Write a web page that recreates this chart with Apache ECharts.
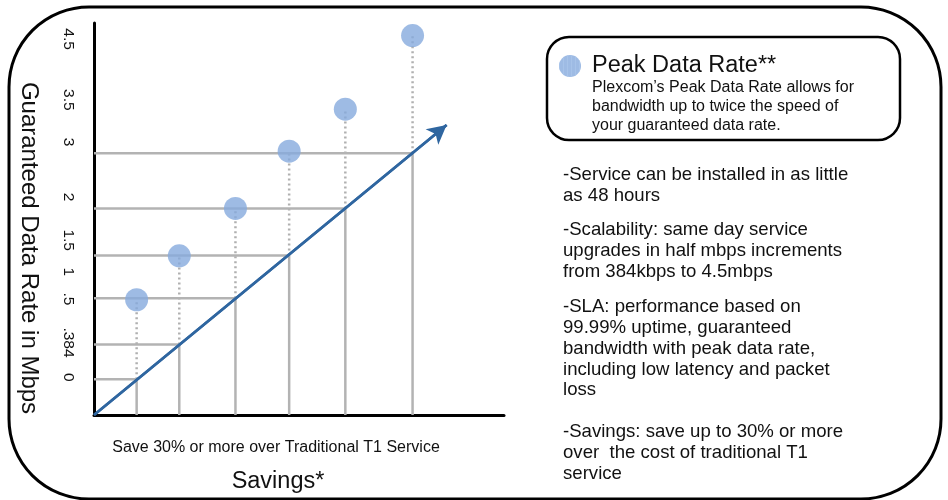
<!DOCTYPE html>
<html lang="en">
<head>
    <meta charset="UTF-8">
    <title>Guaranteed Data Rate</title>
    <script src="https://cdn.jsdelivr.net/npm/echarts@6/dist/echarts.min.js"></script>
</head>
<style>
    html, body { margin: 0; padding: 0; background: #fff; }
    #main { width: 948px; height: 500px; }
</style>
<body>
    <div id="main"></div>
    <script>
        // positions along the savings axis (0-100) and data rate axis (0-100)
        var savingsSteps = [10.4, 20.8, 34.5, 47.6, 61.3, 77.7];
        var guaranteedRate = [9.1, 18.0, 29.8, 40.7, 52.7, 66.8];
        var peakRate = [29.4, 40.6, 52.7, 67.3, 78.0, 96.8];
        var trendLine = [[0, 0], [86.0, 74.0]];
        var tickLabels = ['0', '.384', '.5', '1', '1.5', '2', '3', '3.5', '4.5'];
        var tickValues = [9.6, 18.5, 29.6, 36.5, 44.6, 55.6, 69.6, 80.4, 95.9];

        var bullets = [
            ['-Service can be installed in as little', 'as 48 hours'],
            ['-Scalability: same day service', 'upgrades in half mbps increments', 'from 384kbps to 4.5mbps'],
            ['-SLA: performance based on', '99.99% uptime, guaranteed', 'bandwidth with peak data rate,', 'including low latency and packet', 'loss'],
            ['-Savings: save up to 30% or more', 'over  the cost of traditional T1', 'service']
        ];
        var bulletTops = [175, 230, 307, 432];

        var font = 'Liberation Sans, Arial, sans-serif';
        var dotStyle = {
            color: '#86aadd',
            decal: {
                symbol: 'rect',
                symbolSize: 1,
                color: '#aac6ec',
                dashArrayX: [[1, 3]],
                dashArrayY: [4, 0]
            }
        };

        var stepData = savingsSteps.map(function (x, i) {
            return [x, guaranteedRate[i], peakRate[i]];
        });
        var peakData = savingsSteps.map(function (x, i) {
            return [x, peakRate[i]];
        });

        var texts = [];
        bullets.forEach(function (group, g) {
            group.forEach(function (line, i) {
                texts.push({
                    type: 'text', x: 563, y: bulletTops[g] + i * 20.8,
                    style: { text: line, font: '18.6px ' + font, fill: '#111', verticalAlign: 'middle' }
                });
            });
        });

        var chart = echarts.init(document.getElementById('main'));
        var option = {
            animation: false,
            textStyle: { fontFamily: font },
            grid: { left: 94, top: 23, width: 410, height: 392 },
            legend: {
                left: 554, top: 49,
                itemWidth: 22, itemHeight: 22, itemGap: 0,
                data: ['Peak Data Rate**'],
                textStyle: { fontSize: 23.5, color: '#111', fontFamily: font, padding: [0, 0, 0, 6] }
            },
            xAxis: {
                type: 'value', min: 0, max: 100,
                axisLine: { lineStyle: { color: '#000', width: 3 } },
                axisTick: { show: false },
                axisLabel: { show: false },
                splitLine: { show: false }
            },
            yAxis: {
                type: 'value', min: 0, max: 100,
                axisLine: { show: true, lineStyle: { color: '#000', width: 3 } },
                axisTick: { show: false },
                splitLine: { show: false },
                axisLabel: {
                    customValues: tickValues,
                    rotate: -90,
                    margin: 18,
                    fontSize: 15.5,
                    color: '#111',
                    formatter: function (v) {
                        var i = tickValues.indexOf(v);
                        return i >= 0 ? tickLabels[i] : '';
                    }
                }
            },
            graphic: [
                {
                    type: 'rect', shape: { x: 9, y: 7, width: 932, height: 492, r: 80 },
                    style: { fill: 'none', stroke: '#000', lineWidth: 3 }, z: -1
                },
                {
                    type: 'rect', shape: { x: 547, y: 37, width: 353, height: 103, r: 22 },
                    style: { fill: 'none', stroke: '#000', lineWidth: 2.5 }
                },
                {
                    type: 'text', left: 592, top: 78,
                    style: {
                        text: 'Plexcom\u2019s Peak Data Rate allows for\nbandwidth up to twice the speed of\nyour guaranteed data rate.',
                        font: '16px ' + font, fill: '#111', lineHeight: 19.2
                    }
                },
                {
                    type: 'text', x: 29, y: 248, rotation: -Math.PI / 2,
                    style: {
                        text: 'Guaranteed Data Rate in Mbps', font: '24px ' + font,
                        fill: '#111', align: 'center', verticalAlign: 'middle'
                    }
                },
                {
                    type: 'text', x: 276, y: 448,
                    style: {
                        text: 'Save 30% or more over Traditional T1 Service', font: '16px ' + font,
                        fill: '#111', align: 'center', verticalAlign: 'middle'
                    }
                },
                {
                    type: 'text', x: 278, y: 482,
                    style: {
                        text: 'Savings*', font: '23.5px ' + font,
                        fill: '#111', align: 'center', verticalAlign: 'middle'
                    }
                }
            ].concat(texts),
            series: [
                {
                    type: 'custom',
                    name: 'steps',
                    data: stepData,
                    z: 1,
                    renderItem: function (params, api) {
                        var x = api.value(0), g = api.value(1), p = api.value(2);
                        var a = api.coord([0, g]);
                        var b = api.coord([x, g]);
                        var c = api.coord([x, 0]);
                        var d = api.coord([x, p]);
                        return {
                            type: 'group',
                            children: [
                                { type: 'line', shape: { x1: a[0], y1: a[1], x2: b[0], y2: b[1] }, style: { stroke: '#b3b3b3', lineWidth: 2.5 } },
                                { type: 'line', shape: { x1: c[0], y1: c[1], x2: b[0], y2: b[1] }, style: { stroke: '#b3b3b3', lineWidth: 2.5 } },
                                { type: 'line', shape: { x1: b[0], y1: b[1], x2: d[0], y2: d[1] }, style: { stroke: '#b0b0b0', lineWidth: 2.5, lineDash: [2, 3] } }
                            ]
                        };
                    }
                },
                {
                    type: 'line',
                    name: 'trend',
                    data: trendLine,
                    symbol: 'none',
                    z: 3,
                    lineStyle: { color: '#2f66a0', width: 2.6 },
                    markLine: {
                        silent: true,
                        symbol: ['none', 'arrow'],
                        symbolSize: [15, 19],
                        label: { show: false },
                        lineStyle: { color: '#2f66a0', width: 2.6, type: 'solid' },
                        data: [[{ coord: trendLine[0] }, { coord: trendLine[1] }]]
                    }
                },
                {
                    type: 'scatter',
                    name: 'Peak Data Rate**',
                    data: peakData,
                    symbolSize: 23,
                    z: 4,
                    itemStyle: dotStyle
                }
            ]
        };
        chart.setOption(option);
    </script>
</body>
</html>
